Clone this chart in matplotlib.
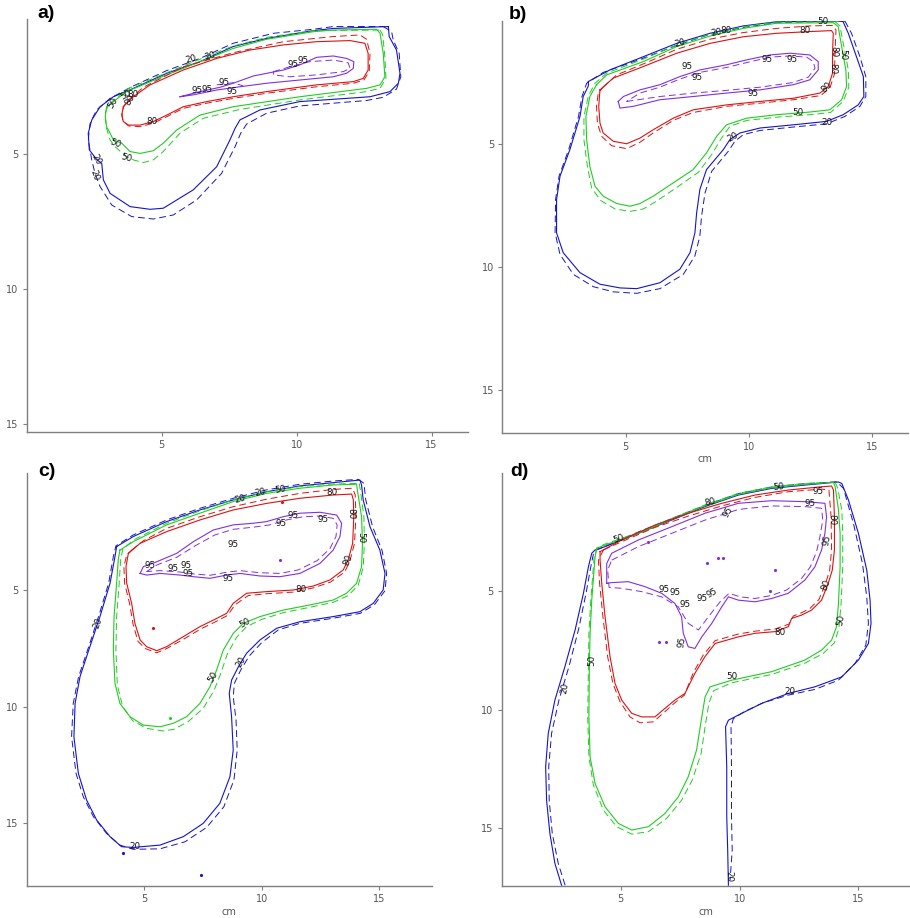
import matplotlib
matplotlib.use("Agg")
import matplotlib.pyplot as plt

# ---------------- colours / styles ----------------
C20, C50, C80, C95 = "#1414c8", "#22cc22", "#dd1111", "#8030e0"

# ================= panel a =================
a_20_solid = [(13.40,0.28),(13.43,0.65),(13.70,1.15),(13.83,2.01),(13.77,2.38),(13.46,2.69),(12.72,2.88),(10.12,3.06),(8.64,3.37),(7.90,3.74),(7.72,4.05),(7.53,4.48),(7.04,5.47),(6.17,6.33),(5.06,7.01),(4.57,7.05),(3.83,6.95),(3.09,6.46),(2.84,5.96),(2.78,5.35),(2.59,5.20),(2.32,4.85),(2.28,4.23),(2.41,3.74),(2.72,3.25),(3.21,2.88),(3.95,2.57),(5.19,2.01),(6.42,1.58),(7.65,1.02),(8.89,0.72),(10.62,0.43),(11.36,0.35),(13.40,0.28)]
a_20_dash = [(13.21,0.28),(13.52,0.47),(13.58,0.78),(13.80,1.27),(13.86,2.14),(13.70,2.60),(13.21,2.90),(12.59,3.02),(10.12,3.22),(8.89,3.49),(8.15,3.89),(7.93,4.23),(7.72,4.73),(7.22,5.72),(6.30,6.70),(5.43,7.26),(4.69,7.41),(3.89,7.32),(3.15,6.89),(2.72,6.21),(2.53,5.72),(2.41,5.22),(2.28,4.48),(2.35,3.86),(2.59,3.37),(3.09,2.94),(3.95,2.48),(5.19,1.91),(6.42,1.46),(7.65,0.90),(9.14,0.53),(10.62,0.38),(11.36,0.28),(13.21,0.28)]
a_50_solid = [(2.96,3.25),(3.70,2.69),(5.19,2.07),(6.42,1.58),(7.65,1.09),(8.89,0.75),(10.62,0.47),(11.36,0.41),(12.96,0.38),(13.09,0.53),(13.21,1.27),(13.27,2.14),(13.09,2.44),(12.59,2.57),(10.12,2.88),(7.65,3.25),(6.42,3.56),(5.56,4.11),(5.06,4.60),(4.69,4.88),(4.20,4.98),(3.83,4.91),(3.52,4.60),(3.21,4.48),(3.09,4.23),(2.96,3.99),(2.91,3.62),(2.96,3.25)]
a_50_dash = [(13.09,0.41),(13.19,0.59),(13.27,1.40),(13.31,2.20),(13.09,2.57),(12.59,2.69),(10.12,3.00),(7.90,3.35),(6.54,3.68),(5.68,4.23),(5.06,4.91),(4.69,5.22),(4.32,5.32),(3.95,5.22),(3.70,5.10),(3.27,4.73),(3.09,4.48),(2.94,3.99),(2.91,3.49),(3.02,3.19),(3.70,2.60),(5.19,1.99),(6.42,1.49),(7.65,1.00),(8.89,0.68),(10.62,0.43),(13.09,0.41)]
a_80_solid = [(3.58,3.25),(3.95,2.88),(4.57,2.44),(5.80,1.89),(7.04,1.46),(8.27,1.15),(9.51,0.96),(10.74,0.84),(11.98,0.80),(12.53,0.90),(12.65,1.27),(12.65,1.89),(12.47,2.20),(12.10,2.32),(10.74,2.44),(8.89,2.69),(7.65,2.88),(6.67,3.06),(5.80,3.25),(5.19,3.56),(4.69,3.80),(4.20,3.93),(3.77,3.93),(3.58,3.80),(3.52,3.56),(3.58,3.25)]
a_80_dash = [(3.77,3.00),(4.32,2.53),(5.80,1.77),(7.65,1.25),(9.51,0.84),(11.36,0.65),(12.35,0.59),(12.59,0.75),(12.72,1.27),(12.69,1.95),(12.49,2.26),(12.10,2.38),(10.74,2.51),(8.89,2.75),(7.65,2.94),(6.67,3.12),(5.80,3.31),(5.19,3.62),(4.69,3.86),(4.20,3.99),(3.77,3.96),(3.56,3.77),(3.53,3.49),(3.60,3.22),(3.77,3.00)]
a_95_solid = [(5.68,2.88),(6.42,2.69),(7.16,2.53),(7.65,2.38),(8.40,2.11),(9.51,1.89),(10.12,1.70),(10.74,1.42),(11.36,1.37),(11.85,1.46),(12.12,1.58),(12.10,1.83),(11.85,2.01),(11.36,2.14),(10.12,2.26),(8.89,2.38),(7.90,2.51),(7.04,2.63),(6.17,2.81),(5.68,2.88)]
a_95_dash = [(9.14,1.95),(9.75,1.77),(10.49,1.58),(11.36,1.52),(11.91,1.62),(11.98,1.83),(11.73,1.95),(10.74,2.07),(9.75,2.14),(9.14,2.07),(9.14,1.95)]
a_95_dash2 = [(7.04,2.44),(7.65,2.36),(8.02,2.48)]
a_labels = [("20",6.11,1.49,15),("20",6.81,1.36,15),("50",3.21,3.12,60),("50",3.68,2.81,30),
            ("80",3.95,2.81,0),("80",3.83,3.00,60),("80",4.63,3.80,0),("50",3.30,4.63,-20),
            ("50",3.68,5.14,-15),("20",2.59,5.20,-60),("20",2.53,5.78,-70),("95",9.88,1.70,0),
            ("95",10.25,1.54,0),("95",6.32,2.65,0),("95",6.67,2.63,0),("95",7.30,2.34,0),("95",7.62,2.68,0)]

# ================= panel b =================
b_20_solid = [(3.49,2.46),(4.36,1.99),(5.72,1.45),(7.07,0.91),(8.42,0.50),(9.77,0.20),(11.12,0.03),(13.69,0.0),(13.82,0.03),(14.03,0.50),(14.36,1.45),(14.64,2.26),(14.66,3.07),(14.43,3.41),(13.82,3.81),(13.15,4.08),(11.80,4.22),(10.45,4.35),(9.64,4.55),(9.23,4.82),(8.96,5.23),(8.28,6.04),(8.01,6.85),(7.88,7.80),(7.81,8.61),(7.61,9.42),(7.20,10.09),(6.39,10.64),(5.45,10.88),(4.77,10.85),(3.96,10.70),(3.15,10.23),(2.47,9.42),(2.20,8.61),(2.20,7.26),(2.34,6.31),(2.74,5.23),(3.15,3.88),(3.28,3.07),(3.49,2.64),(3.49,2.46)]
b_20_dash = [(13.89,0.0),(14.16,0.50),(14.50,1.45),(14.74,2.26),(14.74,3.07),(14.50,3.47),(13.89,3.88),(13.15,4.18),(11.80,4.31),(10.45,4.45),(9.77,4.62),(9.43,4.89),(9.16,5.30),(8.49,6.11),(8.22,6.99),(8.08,7.93),(8.01,8.74),(7.81,9.55),(7.34,10.30),(6.39,10.88),(5.45,11.07),(4.50,11.01),(3.69,10.80),(2.88,10.30),(2.34,9.49),(2.14,8.61),(2.16,7.26),(2.30,6.31),(2.69,5.23),(3.09,3.88),(3.23,3.07),(3.42,2.53),(4.09,2.09),(5.72,1.51),(7.07,0.99),(8.42,0.54),(9.77,0.26),(11.12,0.07),(13.89,0.0)]
b_50_solid = [(3.82,2.59),(4.23,2.19),(5.72,1.65),(7.07,1.04),(8.42,0.61),(9.77,0.30),(11.12,0.09),(13.42,0.07),(13.62,0.23),(13.76,1.04),(13.93,1.99),(13.96,2.66),(13.76,3.20),(13.28,3.61),(12.47,3.70),(11.12,3.81),(9.91,3.95),(9.09,4.22),(8.69,4.69),(8.28,5.36),(7.74,6.04),(6.93,6.58),(6.12,7.12),(5.58,7.42),(5.18,7.53),(4.64,7.42),(4.09,7.12),(3.76,6.72),(3.55,5.91),(3.42,4.82),(3.39,3.88),(3.55,3.07),(3.82,2.59)]
b_50_dash = [(13.49,0.03),(13.69,0.20),(13.85,1.04),(14.03,1.99),(14.05,2.69),(13.82,3.27),(13.31,3.72),(12.47,3.81),(11.12,3.91),(9.91,4.04),(9.23,4.28),(8.89,4.76),(8.49,5.43),(7.95,6.15),(7.14,6.72),(6.26,7.32),(5.72,7.64),(5.18,7.74),(4.57,7.64),(3.99,7.30),(3.62,6.78),(3.45,5.91),(3.31,4.82),(3.31,3.88),(3.49,3.04),(3.76,2.53),(4.23,2.12),(5.72,1.55),(7.07,0.97),(8.42,0.53),(9.77,0.23),(11.12,0.04),(13.49,0.03)]
b_80_solid = [(3.96,2.80),(4.50,2.32),(5.72,1.85),(7.07,1.31),(8.42,0.91),(9.77,0.64),(11.12,0.50),(12.47,0.43),(13.35,0.39),(13.42,0.50),(13.39,1.31),(13.39,2.12),(13.22,2.66),(12.88,2.93),(11.80,3.14),(10.45,3.27),(9.09,3.41),(7.74,3.61),(6.93,3.95),(6.12,4.42),(5.58,4.76),(5.04,4.99),(4.50,4.89),(4.09,4.55),(3.96,4.15),(3.91,3.47),(3.96,2.80)]
b_80_dash = [(4.09,2.69),(4.64,2.19),(5.85,1.69),(7.07,1.15),(8.42,0.74),(9.77,0.47),(11.12,0.30),(12.47,0.20),(13.39,0.18),(13.53,0.36),(13.49,1.31),(13.47,2.15),(13.28,2.73),(12.91,3.03),(11.80,3.20),(10.45,3.34),(9.09,3.47),(7.74,3.72),(6.93,4.04),(6.12,4.55),(5.58,4.93),(5.04,5.19),(4.43,5.07),(4.03,4.69),(3.86,4.18),(3.82,3.47),(3.89,2.93),(4.09,2.69)]
b_95_solid = [(4.70,3.27),(4.77,3.54),(5.31,3.47),(6.39,3.20),(7.74,3.07),(9.09,2.93),(10.45,2.80),(11.80,2.59),(12.47,2.39),(12.81,1.99),(12.81,1.65),(12.47,1.38),(11.66,1.31),(10.85,1.38),(9.91,1.58),(9.09,1.78),(8.01,1.99),(7.20,2.26),(6.39,2.59),(5.58,2.80),(4.91,3.07),(4.70,3.27)]
b_95_dash = [(5.04,3.27),(6.39,3.07),(7.74,2.93),(9.09,2.82),(10.45,2.69),(11.80,2.50),(12.41,2.28),(12.68,1.92),(12.61,1.65),(12.34,1.47),(11.66,1.42),(10.85,1.47),(9.91,1.69),(9.09,1.89),(8.01,2.09),(7.20,2.36),(6.39,2.69),(5.58,2.93),(5.04,3.27)]
b_labels = [("20",7.20,0.91,15),("20",8.69,0.46,10),("80",9.09,0.39,0),("50",13.01,0.03,0),
            ("80",12.27,0.39,0),("80",13.45,1.24,-90),("50",13.82,1.38,-90),("80",13.39,1.92,-90),
            ("80",13.15,2.69,45),("50",12.00,3.70,0),("20",13.15,4.12,0),("20",9.34,4.72,30),
            ("95",7.50,1.84,0),("95",7.88,2.28,0),("95",10.72,1.55,0),("95",11.73,1.55,0),("95",10.15,2.96,0)]

# ================= panel c =================
c_20_solid = [(3.82,3.14),(4.53,2.71),(5.95,2.07),(7.37,1.57),(8.79,1.14),(10.21,0.79),(11.63,0.54),(13.05,0.40),(14.19,0.29),(14.26,0.50),(14.33,1.14),(14.62,2.29),(15.04,3.29),(15.26,4.29),(15.18,5.00),(14.76,5.57),(14.19,5.93),(13.05,6.14),(11.63,6.36),(10.64,6.64),(9.93,7.14),(9.36,7.71),(9.01,8.29),(8.72,8.86),(8.62,9.43),(8.72,10.43),(8.79,11.86),(8.65,13.00),(8.22,14.14),(7.51,15.00),(6.66,15.57),(5.67,15.93),(4.53,16.03),(4.03,16.00),(3.54,15.57),(2.97,14.86),(2.54,14.00),(2.19,12.86),(2.00,11.29),(2.05,9.86),(2.26,8.71),(2.68,7.43),(3.11,6.14),(3.54,4.71),(3.75,3.57),(3.82,3.14)]
c_20_dash = [(14.12,0.26),(14.36,0.43),(14.44,1.14),(14.73,2.29),(15.13,3.29),(15.33,4.29),(15.26,5.03),(14.81,5.63),(14.21,6.00),(13.05,6.21),(11.63,6.43),(10.71,6.71),(10.00,7.26),(9.47,7.83),(9.11,8.43),(8.84,9.00),(8.79,9.57),(8.91,10.57),(8.96,11.86),(8.82,13.14),(8.39,14.29),(7.66,15.17),(6.73,15.79),(5.67,16.09),(4.53,16.11),(3.96,15.93),(3.39,15.43),(2.83,14.71),(2.40,13.86),(2.09,12.86),(1.90,11.29),(1.97,9.86),(2.20,8.71),(2.63,7.43),(3.05,6.14),(3.48,4.71),(3.68,3.57),(3.79,3.11),(4.53,2.64),(5.95,2.00),(7.37,1.50),(8.79,1.07),(10.21,0.71),(11.63,0.47),(13.05,0.33),(14.12,0.26)]
c_50_solid = [(3.96,3.29),(4.53,2.93),(5.95,2.21),(7.37,1.71),(8.79,1.21),(10.21,0.86),(11.63,0.64),(13.05,0.50),(14.05,0.47),(14.08,0.71),(14.26,1.86),(14.30,3.00),(14.26,4.00),(14.05,4.71),(13.62,5.14),(13.05,5.43),(12.06,5.64),(10.92,5.86),(9.93,6.14),(9.22,6.43),(8.79,6.86),(8.37,7.57),(8.08,8.43),(7.80,9.14),(7.37,9.86),(6.80,10.43),(6.24,10.71),(5.67,10.86),(4.96,10.79),(4.39,10.43),(3.96,9.86),(3.75,9.00),(3.68,7.57),(3.71,6.14),(3.82,4.71),(3.89,3.71),(3.96,3.29)]
c_50_dash = [(14.16,0.43),(14.22,0.79),(14.36,1.86),(14.38,3.00),(14.33,4.03),(14.12,4.79),(13.69,5.24),(13.05,5.53),(12.06,5.74),(10.92,5.97),(10.00,6.26),(9.36,6.57),(8.93,7.03),(8.54,7.74),(8.25,8.60),(7.97,9.31),(7.51,10.07),(6.87,10.64),(6.26,10.97),(5.81,11.04),(5.10,10.93),(4.50,10.60),(4.08,10.00),(3.85,9.07),(3.79,7.57),(3.82,6.14),(3.93,4.71),(3.99,3.71),(4.08,3.26),(4.53,2.86),(5.95,2.14),(7.37,1.61),(8.79,1.14),(10.21,0.79),(11.63,0.57),(13.05,0.46),(14.16,0.43)]
c_80_solid = [(4.32,3.43),(4.82,3.00),(5.95,2.50),(7.37,2.00),(8.79,1.57),(10.21,1.29),(11.63,1.07),(13.05,0.93),(13.84,0.89),(13.91,1.14),(13.93,1.86),(13.88,3.00),(13.69,3.71),(13.48,4.14),(12.91,4.57),(12.20,4.83),(11.35,5.00),(10.21,5.07),(9.36,5.14),(8.79,5.57),(8.51,6.00),(7.94,6.29),(7.37,6.57),(6.66,7.00),(5.95,7.43),(5.53,7.60),(5.10,7.43),(4.82,7.14),(4.60,6.43),(4.46,5.57),(4.25,4.71),(4.22,4.00),(4.32,3.43)]
c_80_dash = [(4.46,3.29),(4.96,2.89),(5.95,2.36),(7.37,1.86),(8.79,1.43),(10.21,1.11),(11.63,0.86),(13.05,0.69),(13.88,0.64),(13.99,0.93),(14.02,1.86),(13.96,3.00),(13.76,3.77),(13.54,4.23),(12.94,4.66),(12.20,4.91),(11.35,5.09),(10.21,5.16),(9.43,5.24),(8.86,5.64),(8.55,6.09),(7.98,6.39),(7.40,6.67),(6.69,7.10),(5.95,7.51),(5.53,7.69),(5.04,7.51),(4.73,7.20),(4.52,6.46),(4.37,5.57),(4.16,4.71),(4.13,4.00),(4.25,3.50),(4.46,3.29)]
c_95_solid = [(4.82,4.29),(4.96,4.00),(5.53,3.79),(6.38,3.43),(7.09,2.93),(7.94,2.43),(8.79,2.21),(9.64,2.14),(10.21,2.07),(10.92,1.86),(11.63,1.71),(12.49,1.67),(13.20,1.79),(13.41,2.14),(13.34,2.71),(13.05,3.29),(12.49,3.86),(11.63,4.29),(10.78,4.43),(9.93,4.40),(9.08,4.29),(8.51,4.36),(7.80,4.50),(7.09,4.43),(6.52,4.36),(5.67,4.29),(5.10,4.36),(4.82,4.29)]
c_95_dash = [(5.10,4.21),(5.53,3.93),(6.38,3.60),(7.16,3.11),(8.01,2.64),(8.79,2.40),(9.64,2.31),(10.35,2.21),(11.06,2.00),(11.78,1.86),(12.49,1.83),(13.05,1.93),(13.22,2.21),(13.17,2.71),(12.91,3.23),(12.37,3.74),(11.56,4.14),(10.78,4.29),(9.93,4.26),(9.08,4.17),(8.51,4.24),(7.80,4.37),(7.09,4.31),(6.52,4.23),(5.67,4.17),(5.10,4.21)]
c_labels = [("20",9.08,1.11,15),("20",9.93,0.83,12),("50",10.78,0.71,10),("80",12.98,0.83,0),
            ("80",13.79,1.71,-90),("50",14.22,2.74,-90),("80",13.69,3.71,70),("80",11.70,5.00,0),
            ("50",9.29,6.40,30),("50",7.94,8.71,60),("20",9.11,8.07,60),("20",3.04,6.40,70),
            ("20",4.60,16.00,0),("95",5.24,3.93,0),("95",6.24,4.07,0),("95",6.80,3.97,0),
            ("95",6.87,4.29,0),("95",8.58,4.50,0),("95",8.79,3.07,0),("95",10.85,2.14,0),
            ("95",11.32,1.79,0),("95",12.63,2.00,0)]
c_dots_blue = [(4.11,16.29),(7.41,17.21)]
c_dots_red = [(5.36,6.61),(10.85,1.24)]
c_dots_green = [(6.09,10.50)]
c_dots_purple = [(10.78,3.71)]

# ================= panel d =================
d_20_solid = [(2.51,17.41),(2.23,16.49),(2.02,15.23),(1.88,13.82),(1.84,12.41),(1.95,11.00),(2.23,9.59),(2.65,8.18),(3.08,6.63),(3.43,5.08),(3.64,3.96),(3.78,3.39),(3.92,3.25),(4.34,3.11),(5.74,2.55),(7.14,1.99),(8.54,1.42),(9.95,0.93),(11.35,0.65),(12.75,0.51),(14.16,0.38),(14.30,0.44),(14.58,1.14),(15.00,2.55),(15.35,4.10),(15.49,5.37),(15.53,6.35),(15.42,7.20),(15.00,7.90),(14.30,8.61),(13.17,9.03),(12.05,9.31),(10.93,9.73),(10.09,10.15),(9.53,10.44),(9.41,10.72),(9.46,12.41),(9.46,14.52),(9.50,15.93),(9.53,17.41)]
d_20_dash = [(2.66,17.41),(2.37,16.49),(2.12,15.23),(1.99,13.82),(1.97,12.41),(2.09,11.00),(2.40,9.59),(2.82,8.18),(3.22,6.63),(3.54,5.08),(3.74,3.96),(3.85,3.42),(3.99,3.25),(4.41,3.07),(5.74,2.49),(7.14,1.93),(8.54,1.37),(9.95,0.87),(11.35,0.59),(12.75,0.45),(14.09,0.37),(14.37,0.65),(14.79,2.13),(15.17,3.82),(15.35,5.23),(15.42,6.35),(15.31,7.27),(14.86,8.04),(14.16,8.75),(13.17,9.14),(12.05,9.38),(11.00,9.70),(10.20,10.08),(9.74,10.37),(9.64,10.72),(9.66,12.41),(9.66,14.52),(9.69,15.93),(9.60,17.20)]
d_50_solid = [(3.99,3.18),(3.92,3.54),(3.78,5.37),(3.71,6.77),(3.68,8.18),(3.66,10.30),(3.71,11.99),(3.92,13.11),(4.34,14.10),(4.90,14.80),(5.46,15.08),(6.16,14.94),(6.86,14.38),(7.42,13.68),(7.84,12.83),(8.19,11.70),(8.41,10.30),(8.55,9.45),(8.76,9.03),(9.67,8.75),(11.35,8.39),(12.75,7.90),(13.45,7.48),(13.87,7.06),(14.08,6.49),(14.16,5.51),(14.23,3.96),(14.23,2.55),(14.16,1.56),(14.02,0.58),(13.95,0.39),(12.75,0.48),(11.35,0.62),(9.95,0.90),(8.54,1.39),(7.14,1.96),(5.74,2.55),(4.34,3.04),(3.99,3.18)]
d_50_dash = [(14.02,0.39),(14.13,0.65),(14.30,1.56),(14.34,2.55),(14.34,3.96),(14.27,5.51),(14.18,6.56),(13.99,7.17),(13.52,7.62),(12.75,8.03),(11.35,8.51),(9.67,8.86),(8.90,9.20),(8.71,9.73),(8.57,10.58),(8.38,11.85),(8.01,12.97),(7.56,13.82),(6.93,14.59),(6.16,15.15),(5.46,15.25),(4.83,14.94),(4.27,14.24),(3.85,13.18),(3.66,11.99),(3.61,10.30),(3.64,8.18),(3.66,6.77),(3.74,5.37),(3.88,3.54),(4.03,3.14),(4.34,3.00),(5.74,2.51),(7.14,1.92),(8.54,1.35),(9.95,0.86),(11.35,0.58),(12.75,0.44),(14.02,0.39)]
d_80_solid = [(4.13,3.32),(5.04,2.83),(6.44,2.20),(7.84,1.70),(9.25,1.28),(10.65,0.93),(12.05,0.72),(13.45,0.58),(13.87,0.55),(13.95,0.72),(13.99,1.85),(13.99,3.25),(13.90,4.10),(13.73,4.66),(13.45,5.37),(13.03,5.79),(12.61,6.00),(12.19,6.14),(12.05,6.49),(11.49,6.70),(10.65,6.77),(9.95,6.92),(8.97,7.20),(8.54,7.76),(8.12,8.46),(7.70,9.31),(7.28,9.59),(6.86,9.94),(6.44,10.30),(5.88,10.30),(5.46,10.15),(5.04,9.59),(4.76,8.89),(4.55,7.76),(4.34,6.07),(4.20,4.66),(4.13,3.68),(4.13,3.32)]
d_80_dash = [(4.27,3.25),(5.04,2.90),(6.44,2.30),(7.84,1.82),(9.25,1.39),(10.65,1.03),(12.05,0.79),(13.45,0.68),(13.76,0.72),(13.85,1.85),(13.87,3.25),(13.79,4.10),(13.62,4.66),(13.34,5.34),(12.96,5.72),(12.61,5.90),(12.26,6.04),(12.08,6.38),(11.49,6.59),(10.65,6.68),(9.95,6.80),(8.97,7.08),(8.47,7.69),(8.05,8.44),(7.68,9.38),(7.28,9.70),(6.86,10.08),(6.37,10.51),(5.81,10.55),(5.39,10.30),(4.97,9.66),(4.67,8.89),(4.45,7.76),(4.25,6.07),(4.11,4.66),(4.06,3.68),(4.27,3.25)]
d_95_solid = [(4.41,4.66),(4.41,3.82),(4.62,3.39),(5.74,2.83),(7.14,2.27),(8.54,1.70),(9.95,1.28),(11.35,1.17),(12.75,1.21),(13.59,1.28),(13.66,1.85),(13.59,2.55),(13.45,3.25),(13.17,3.96),(12.75,4.52),(12.05,5.08),(11.35,5.30),(10.65,5.44),(9.95,5.37),(9.53,5.23),(9.25,5.65),(8.83,6.35),(8.41,6.92),(8.12,7.41),(7.84,7.34),(7.63,6.77),(7.56,6.07),(7.28,5.51),(6.72,5.08),(6.02,4.80),(5.32,4.59),(4.62,4.63),(4.41,4.66)]
d_95_dash = [(4.62,3.68),(5.74,3.11),(7.14,2.55),(8.54,1.99),(9.95,1.54),(11.35,1.39),(12.75,1.42),(13.45,1.49),(13.50,1.99),(13.38,2.69),(13.24,3.32),(12.98,3.96),(12.61,4.45),(11.98,4.94),(11.35,5.17),(10.65,5.30),(10.02,5.23),(9.56,5.08),(9.18,5.44),(8.69,6.07),(8.27,6.63),(7.84,6.35),(7.42,5.65),(6.72,5.23),(5.88,5.01),(5.04,4.87),(4.51,4.83),(4.45,4.10),(4.62,3.68)]
d_labels = [("50",11.63,0.61,5),("95",13.31,0.79,0),("95",12.96,1.28,0),("95",9.53,1.63,60),
            ("80",8.76,1.21,15),("80",13.87,1.99,-90),("95",13.66,2.83,80),("50",4.90,2.76,20),
            ("80",13.62,4.73,70),("50",14.27,6.21,80),("80",11.70,6.75,0),("50",9.67,8.58,0),
            ("20",12.12,9.24,0),("20",2.65,9.10,80),("50",3.78,7.93,90),("20",9.53,17.03,-90),
            ("95",6.84,4.94,0),("95",7.28,5.06,0),("95",7.70,5.54,0),("95",8.41,5.30,0),
            ("95",8.83,5.08,30),("95",7.56,7.13,80)]
d_dots_purple = [(6.16,2.93),(9.10,3.60),(9.30,3.60),(11.30,5.00),(11.50,4.10),(8.65,3.80),(6.60,7.15),(6.90,7.15)]

panels = [
    dict(tag="a)", rect=[26.7, 19.0, 468.0, 432.0], xlim=(0, 16.35), ylim=(15.3, 0), xlabel=None,
         lines=[(a_20_solid, C20, "-"), (a_20_dash, C20, "--"), (a_50_solid, C50, "-"), (a_50_dash, C50, "--"),
                (a_80_solid, C80, "-"), (a_80_dash, C80, "--"), (a_95_solid, C95, "-"), (a_95_dash, C95, "--"),
                (a_95_dash2, C95, "--")],
         labels=a_labels, dots=[], tagpos=(37, 5)),
    dict(tag="b)", rect=[502.3, 21.0, 908.0, 433.3], xlim=(0, 16.45), ylim=(16.76, 0), xlabel="cm",
         lines=[(b_20_solid, C20, "-"), (b_20_dash, C20, "--"), (b_50_solid, C50, "-"), (b_50_dash, C50, "--"),
                (b_80_solid, C80, "-"), (b_80_dash, C80, "--"), (b_95_solid, C95, "-"), (b_95_dash, C95, "--")],
         labels=b_labels, dots=[], tagpos=(509, 6)),
    dict(tag="c)", rect=[27.0, 473.3, 431.7, 885.7], xlim=(0, 17.25), ylim=(17.67, 0), xlabel="cm",
         lines=[(c_20_solid, C20, "-"), (c_20_dash, C20, "--"), (c_50_solid, C50, "-"), (c_50_dash, C50, "--"),
                (c_80_solid, C80, "-"), (c_80_dash, C80, "--"), (c_95_solid, C95, "-"), (c_95_dash, C95, "--")],
         labels=c_labels, dots=[(c_dots_blue, C20), (c_dots_red, C80), (c_dots_green, C50), (c_dots_purple, C95)],
         tagpos=(38, 463)),
    dict(tag="d)", rect=[501.9, 473.0, 910.0, 885.7], xlim=(0, 17.17), ylim=(17.43, 0), xlabel="cm",
         lines=[(d_20_solid, C20, "-"), (d_20_dash, C20, "--"), (d_50_solid, C50, "-"), (d_50_dash, C50, "--"),
                (d_80_solid, C80, "-"), (d_80_dash, C80, "--"), (d_95_solid, C95, "-"), (d_95_dash, C95, "--")],
         labels=d_labels, dots=[(d_dots_purple, C95)], tagpos=(510, 463)),
]

W, H = 910, 918
fig = plt.figure(figsize=(W / 100, H / 100), dpi=100)
AX_COL = "#7f7f7f"
for p in panels:
    x0, y0, x1, y1 = p["rect"]
    ax = fig.add_axes([x0 / W, 1 - y1 / H, (x1 - x0) / W, (y1 - y0) / H])
    for pts, col, ls in p["lines"]:
        xs = [q[0] for q in pts]
        ys = [q[1] for q in pts]
        if ls == "-":
            ax.plot(xs, ys, color=col, lw=0.8, solid_joinstyle="round")
        else:
            ax.plot(xs, ys, color=col, lw=0.7, linestyle=(0, (7, 4)))
    for pts, col in p["dots"]:
        ax.plot([q[0] for q in pts], [q[1] for q in pts], ".", color=col, ms=2.5)
    for txt, x, y, rot in p["labels"]:
        ax.text(x, y, txt, fontsize=6.3, rotation=rot, ha="center", va="center", color="#111111",
                rotation_mode="anchor")
    ax.set_xlim(*p["xlim"])
    ax.set_ylim(*p["ylim"])
    ax.set_xticks([5, 10, 15])
    ax.set_yticks([5, 10, 15])
    for s in ("top", "right"):
        ax.spines[s].set_visible(False)
    for s in ("left", "bottom"):
        ax.spines[s].set_color(AX_COL)
        ax.spines[s].set_linewidth(1.0)
    ax.tick_params(axis="both", colors=AX_COL, labelcolor="#555555", labelsize=7, length=3, width=0.8, pad=3)
    if p["xlabel"]:
        ax.set_xlabel(p["xlabel"], fontsize=7, color="#555555", labelpad=2)
    ax.patch.set_alpha(0)
    fig.text(p["tagpos"][0] / W, 1 - p["tagpos"][1] / H, p["tag"], fontsize=14, fontweight="bold",
             ha="left", va="top", family="Liberation Sans")

fig.savefig("out.png", dpi=100)
